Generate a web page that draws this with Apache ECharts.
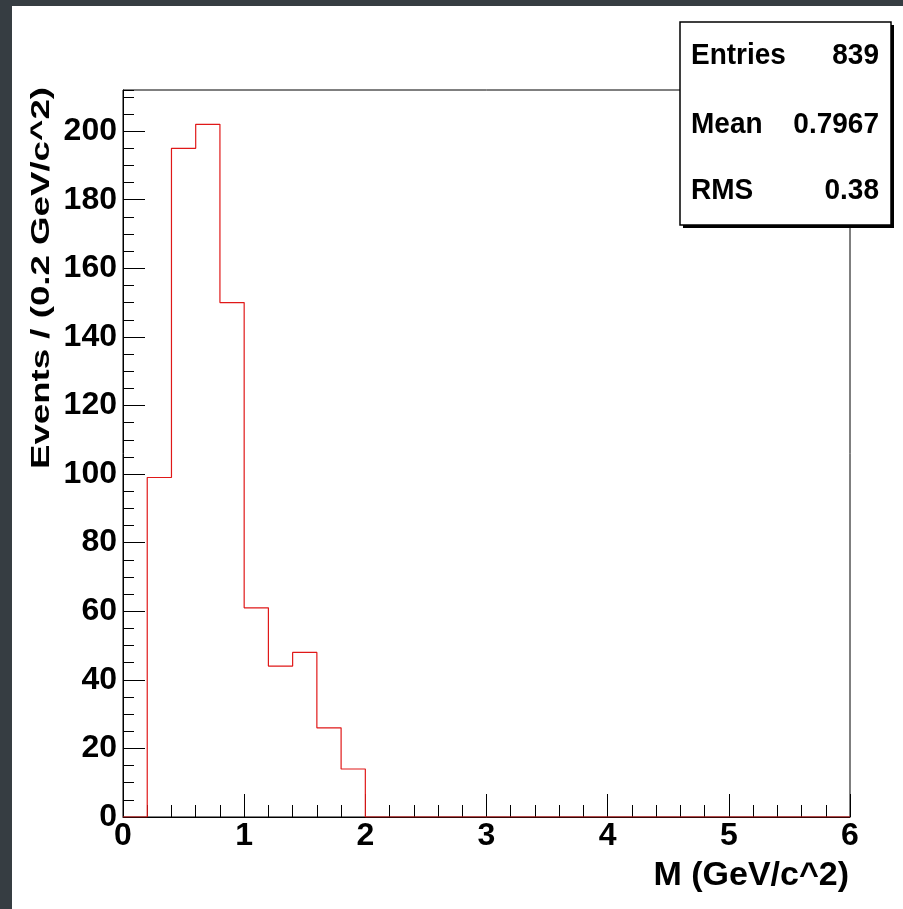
<!DOCTYPE html>
<html style="height: 100%">
<head>
    <meta charset="utf-8">
    <title>M histogram</title>
    <script src="https://cdn.jsdelivr.net/npm/echarts@6/dist/echarts.min.js"></script>
</head>
<body style="height: 100%; margin: 0">
<div id="container" style="width: 903px; height: 909px"></div>
<script type="text/javascript">
// histogram: 30 bins of 0.2 GeV/c^2 from 0 to 6
var xMin = 0, xMax = 6, binWidth = 0.2;
var counts = [0, 99, 195, 202, 150, 61, 44, 48, 26, 14,
              0, 0, 0, 0, 0, 0, 0, 0, 0, 0,
              0, 0, 0, 0, 0, 0, 0, 0, 0, 0];
var statNames = ['Entries', 'Mean', 'RMS'];
var statValues = ['839', '0.7967', '0.38'];
var xTitle = 'M (GeV/c^2)';
var yTitle = 'Events / (0.2 GeV/c^2)';
var yMax = 212;

var font = '"Liberation Sans", Arial, Helvetica, sans-serif';

// step points at the low edge of each bin, closed at xMax
var histData = [];
for (var i = 0; i < counts.length; i++) {
    histData.push([+(xMin + i * binWidth).toFixed(2), counts[i]]);
}
histData.push([xMax, 0]);

var myChart = echarts.init(document.getElementById('container'));

var statText = [];
var rowY = [56, 125, 191];
for (var k = 0; k < statNames.length; k++) {
    statText.push({
        type: 'text', x: 691, y: rowY[k], z: 102, scaleY: 1.08,
        style: { text: statNames[k], font: 'bold 28px ' + font, fill: '#000', textAlign: 'left', textVerticalAlign: 'middle' }
    });
    statText.push({
        type: 'text', x: 879, y: rowY[k], z: 102, scaleY: 1.08,
        style: { text: statValues[k], font: 'bold 28px ' + font, fill: '#000', textAlign: 'right', textVerticalAlign: 'middle' }
    });
}

var option = {
    backgroundColor: '#363d42',
    animation: false,
    grid: {
        left: 123, top: 90, width: 727, height: 727,
        show: true, borderColor: '#000', borderWidth: 1, backgroundColor: 'transparent'
    },
    xAxis: {
        type: 'value', min: xMin, max: xMax, interval: 1,
        axisLine: { lineStyle: { color: '#000', width: 1 } },
        axisTick: { inside: true, length: 23, lineStyle: { color: '#000' } },
        minorTick: { show: true, splitNumber: 5, length: 12, lineStyle: { color: '#000' } },
        splitLine: { show: false },
        axisLabel: { margin: 3, color: '#000', fontSize: 32, fontWeight: 'bold', fontFamily: font }
    },
    yAxis: [{
        type: 'value', min: 0, max: yMax, interval: 20,
        axisLine: { show: true, lineStyle: { color: '#000', width: 1 } },
        axisTick: { show: true, inside: true, length: 22, lineStyle: { color: '#000' } },
        splitLine: { show: false },
        axisLabel: {
            margin: 6, color: '#000', fontSize: 32, fontWeight: 'bold', fontFamily: font,
            showMaxLabel: false
        }
    }, {
        type: 'value', min: 0, max: yMax, interval: 5, position: 'left',
        axisLine: { show: false },
        axisTick: { show: true, inside: true, length: 11, lineStyle: { color: '#000' } },
        splitLine: { show: false },
        axisLabel: { show: false }
    }],
    graphic: [
        { type: 'rect', left: 12, top: 6, z: -10, shape: { width: 891, height: 903 }, style: { fill: '#fff' } },
        {
            type: 'text', x: 42, y: 87, rotation: Math.PI / 2, scaleX: 1.41,
            style: { text: yTitle, font: 'bold 26px ' + font, fill: '#000', textAlign: 'right', textVerticalAlign: 'middle' }
        },
        {
            type: 'text', x: 849, y: 876,
            style: { text: xTitle, font: 'bold 34px ' + font, fill: '#000', textAlign: 'right', textVerticalAlign: 'middle' }
        },
        { type: 'rect', x: 683, y: 25, z: 100, shape: { width: 211, height: 203 }, style: { fill: '#000' } },
        { type: 'rect', x: 680, y: 22, z: 101, shape: { width: 211, height: 203 }, style: { fill: '#fff', stroke: '#000', lineWidth: 1.5 } }
    ].concat(statText),
    series: [{
        type: 'line',
        step: 'end',
        xAxisIndex: 0,
        yAxisIndex: 0,
        data: histData,
        showSymbol: false,
        symbol: 'none',
        lineStyle: { color: '#e01818', width: 1.2 },
        z: 5
    }]
};
myChart.setOption(option);
</script>
</body>
</html>
